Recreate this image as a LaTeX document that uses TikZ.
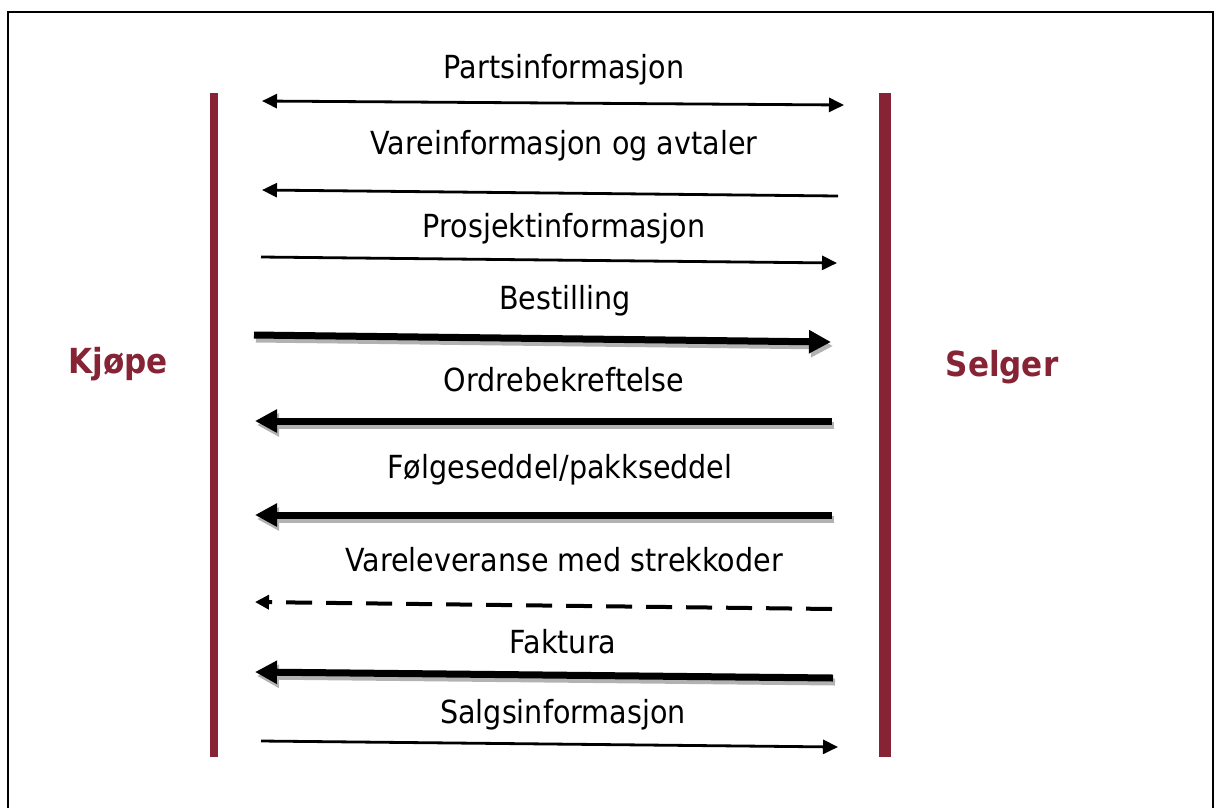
\documentclass[tikz,border=0pt]{standalone}
\usepackage{fontspec}
\setmainfont{DejaVu Sans}[FakeStretch=0.9]
\usetikzlibrary{arrows.meta}
\definecolor{maroon}{RGB}{134,35,52}
\begin{document}
\begin{tikzpicture}[x=1pt,y=-1pt,
  lbl/.style={font=\fontsize{31.8}{37}\selectfont, anchor=base, inner sep=0pt},
  actor/.style={font=\bfseries\fontsize{34.5}{40}\selectfont, text=maroon, anchor=base, inner sep=0pt},
  thinarr/.style={line width=2.8pt, -{Triangle[length=15pt,width=14pt]}},
  thinboth/.style={line width=2.8pt, {Triangle[length=15pt,width=14pt]}-{Triangle[length=15pt,width=14pt]}},
  thickarr/.style={line width=7pt, -{Triangle[length=22pt,width=22pt]}},
  shadowarr/.style={line width=7pt, draw=black!30, -{Triangle[length=22pt,width=22pt]}},
  dasharr/.style={line width=4pt, dash pattern=on 26pt off 14pt, -{Triangle[length=14pt,width=14pt]}}]
\useasboundingbox (0,0) rectangle (1215,807);
% frame
\draw[line width=1.8pt] (8,812) -- (8,12) -- (1213,12) -- (1213,812);
% lifelines
\fill[maroon] (210,93) rectangle (218,757);
\fill[maroon] (879,93) rectangle (891,757);
% actors
\node[actor] (buyer) at (118,373) {Kjøpe};
\node[actor] (seller) at (1002,376) {Selger};
% labels
\node[lbl] (l1) at (564,78) {Partsinformasjon};
\node[lbl] (l2) at (564,154) {Vareinformasjon og avtaler};
\node[lbl] (l3) at (564,237) {Prosjektinformasjon};
\node[lbl] (l4) at (565,309) {Bestilling};
\node[lbl] (l5) at (564,391) {Ordrebekreftelse};
\node[lbl] (l6) at (560,478) {Følgeseddel/pakkseddel};
\node[lbl] (l7) at (564,571) {Vareleveranse med strekkoder};
\node[lbl] (l8) at (563,653) {Faktura};
\node[lbl] (l9) at (563,723) {Salgsinformasjon};
% arrow end points
\coordinate (p1a) at (262,101); \coordinate (p1b) at (844,105);
\coordinate (p2a) at (838,196); \coordinate (p2b) at (262,190);
\coordinate (p3a) at (261,257); \coordinate (p3b) at (837,263);
\coordinate (p4a) at (254,335); \coordinate (p4b) at (831,342);
\coordinate (p5a) at (832,421); \coordinate (p5b) at (255,421);
\coordinate (p6a) at (832,515); \coordinate (p6b) at (255,515);
\coordinate (p7a) at (832,609); \coordinate (p7b) at (255,602);
\coordinate (p8a) at (833,678); \coordinate (p8b) at (255,672);
\coordinate (p9a) at (261,741); \coordinate (p9b) at (838,747);
% arrows
\draw[thinboth] (p1a) -- (p1b);
\draw[thinarr] (p2a) -- (p2b);
\draw[thinarr] (p3a) -- (p3b);
\draw[shadowarr] ([shift={(2,4)}]p4a) -- ([shift={(2,4)}]p4b);
\draw[thickarr] (p4a) -- (p4b);
\draw[shadowarr] ([shift={(2,4)}]p5a) -- ([shift={(2,4)}]p5b);
\draw[thickarr] (p5a) -- (p5b);
\draw[shadowarr] ([shift={(2,4)}]p6a) -- ([shift={(2,4)}]p6b);
\draw[thickarr] (p6a) -- (p6b);
\draw[dasharr] (p7a) -- (p7b);
\draw[shadowarr] ([shift={(2,4)}]p8a) -- ([shift={(2,4)}]p8b);
\draw[thickarr] (p8a) -- (p8b);
\draw[thinarr] (p9a) -- (p9b);
\end{tikzpicture}
\end{document}
